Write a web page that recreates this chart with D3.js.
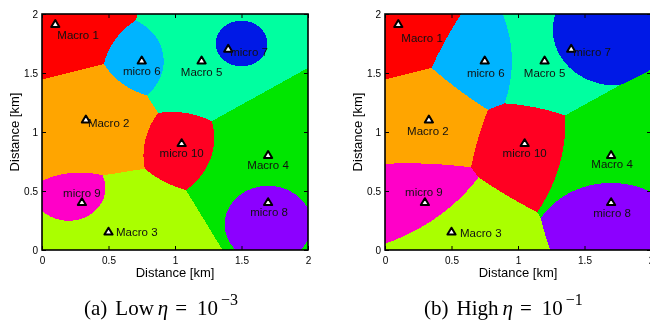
<!DOCTYPE html>
<html>
<head>
<meta charset="utf-8">
<script src="https://cdn.jsdelivr.net/npm/d3@7"></script>
<style>
  html, body { margin: 0; padding: 0; background: #fff; }
  #wrap { position: relative; width: 650px; height: 320px; overflow: hidden; }
  #wrap canvas, #wrap svg { position: absolute; left: 0; top: 0; }
</style>
</head>
<body>
<div id="wrap">
  <canvas id="map" width="650" height="320"></canvas>
  <svg id="chart" width="650" height="320"></svg>
</div>
<script>
// ─── Data ────────────────────────────────────────────────────────────────────
const stationNames = ['Macro 1', 'Macro 2', 'Macro 3', 'Macro 4', 'Macro 5',
                      'micro 6', 'micro 7', 'micro 8', 'micro 9', 'micro 10'];
const stationX = [0.10, 0.33, 0.50, 1.70, 1.20, 0.75, 1.40, 1.70, 0.30, 1.05];   // km
const stationY = [1.91, 1.10, 0.15, 0.80, 1.60, 1.60, 1.70, 0.40, 0.40, 0.90];   // km
const cellColors = ['#ff0000', '#ffa500', '#aaff00', '#00e600', '#00ffa0',
                    '#00b4ff', '#0019e6', '#8c00ff', '#ff00c8', '#ff0022'];
// relative reach of each station (user goes to max reach / distance)
const reachLow  = [1, 1, 1, 1, 1, 0.577, 0.577, 0.56, 0.577, 0.577];
const reachHigh = [1, 1, 1, 1.1, 1.1, 0.91, 0.87, 0.8, 0.9, 0.88];
const axisTicks = [0, 0.5, 1, 1.5, 2];
const captionTags = ['(a)', '(b)'];
const captionWords = ['Low', 'High'];
const etaExponents = ['\u22123', '\u22121'];

// ─── Layout / style ──────────────────────────────────────────────────────────
const C = {
  sans: '"Liberation Sans", Arial, Helvetica, sans-serif',
  serif: '"Liberation Serif", "Times New Roman", serif',
  ink: '#000',
};
const LABEL_LOW = [
  { dx: 2,   dy: 14,  a: 'start' },
  { dx: 2,   dy: 7,   a: 'start' },
  { dx: 7.5, dy: 4,   a: 'start' },
  { dx: 0,   dy: 13,  a: 'middle' },
  { dx: 0,   dy: 15,  a: 'middle' },
  { dx: 0,   dy: 14,  a: 'middle' },
  { dx: 2,   dy: 7,   a: 'start' },
  { dx: 1,   dy: 13,  a: 'middle' },
  { dx: 0,   dy: -6,  a: 'middle' },
  { dx: 0,   dy: 13,  a: 'middle' },
];
const LABEL_HIGH = [
  { dx: 3,   dy: 17,  a: 'start' },
  { dx: -1,  dy: 15,  a: 'middle' },
  { dx: 8.5, dy: 5,   a: 'start' },
  { dx: 1,   dy: 12.5, a: 'middle' },
  { dx: 0,   dy: 16,  a: 'middle' },
  { dx: 1,   dy: 16,  a: 'middle' },
  { dx: 2,   dy: 7,   a: 'start' },
  { dx: 1,   dy: 14,  a: 'middle' },
  { dx: -1,  dy: -7,  a: 'middle' },
  { dx: 0,   dy: 13,  a: 'middle' },
];
const PANELS = [
  { left: 42,  reach: reachLow,  labels: LABEL_LOW,  ytitleX: 19,  capX: 84 },
  { left: 385, reach: reachHigh, labels: LABEL_HIGH, ytitleX: 362, capX: 424 },
];
const PW = 266, TOP = 14, BOTTOM = 250;

const canvas = document.getElementById('map');
const ctx = canvas.getContext('2d');
const img = ctx.createImageData(canvas.width, canvas.height);
const rgb = cellColors.map((c) => d3.rgb(c));
const svg = d3.select('#chart');

function owner(xk, yk, reach) {
  let best = -Infinity, idx = 0;
  for (let i = 0; i < stationX.length; i++) {
    const d = Math.max(Math.hypot(xk - stationX[i], yk - stationY[i]), 1e-6);
    const s = reach[i] / d;
    if (s > best) { best = s; idx = i; }
  }
  return idx;
}

PANELS.forEach((p, pi) => {
  const x = d3.scaleLinear().domain([0, 2]).range([p.left, p.left + PW]);
  const y = d3.scaleLinear().domain([0, 2]).range([BOTTOM, TOP]);

  // association map, one canvas pixel at a time
  const [r0, r1] = x.range();
  for (let py = TOP; py < BOTTOM; py++) {
    const yk = y.invert(py + 0.5);
    for (let px = Math.round(r0); px < Math.min(Math.round(r1), canvas.width); px++) {
      const c = rgb[owner(x.invert(px + 0.5), yk, p.reach)];
      const o = (py * canvas.width + px) * 4;
      img.data[o] = c.r; img.data[o + 1] = c.g; img.data[o + 2] = c.b; img.data[o + 3] = 255;
    }
  }

  const g = svg.append('g').attr('font-family', C.sans);

  // axes (MATLAB style: ticks inward on all four sides)
  const fmt = (v) => String(v);
  g.append('g').attr('transform', `translate(0,${BOTTOM})`)
    .call(d3.axisBottom(x).tickValues(axisTicks).tickSize(-4).tickSizeOuter(0).tickPadding(7).tickFormat(fmt));
  g.append('g').attr('transform', `translate(${p.left},0)`)
    .call(d3.axisLeft(y).tickValues(axisTicks).tickSize(-4).tickSizeOuter(0).tickPadding(4).tickFormat(fmt));
  g.append('g').attr('transform', `translate(0,${TOP})`)
    .call(d3.axisTop(x).tickValues(axisTicks).tickSize(-4).tickSizeOuter(0).tickFormat(''));
  g.append('g').attr('transform', `translate(${p.left + PW},0)`)
    .call(d3.axisRight(y).tickValues(axisTicks).tickSize(-4).tickSizeOuter(0).tickFormat(''));
  g.selectAll('.tick text').attr('font-size', 10).attr('fill', C.ink).attr('font-family', C.sans);
  g.selectAll('.tick line').attr('stroke', C.ink);
  g.selectAll('.domain').remove();

  g.append('rect')
    .attr('x', p.left).attr('y', TOP).attr('width', PW).attr('height', BOTTOM - TOP)
    .attr('fill', 'none').attr('stroke', C.ink).attr('stroke-width', 1.6);

  // axis titles
  g.append('text').attr('x', p.left + PW / 2).attr('y', 277)
    .attr('text-anchor', 'middle').attr('font-size', 13).attr('fill', C.ink)
    .text('Distance [km]');
  g.append('text')
    .attr('transform', `translate(${p.ytitleX},${(TOP + BOTTOM) / 2}) rotate(-90)`)
    .attr('text-anchor', 'middle').attr('font-size', 13).attr('fill', C.ink)
    .text('Distance [km]');

  // stations
  const tri = 'M0,-3.8L4.1,3.1L-4.1,3.1Z';
  stationNames.forEach((name, i) => {
    const sx = x(stationX[i]), sy = y(stationY[i]);
    g.append('path').attr('d', tri)
      .attr('transform', `translate(${sx},${sy - 0.8})`)
      .attr('fill', '#fff').attr('stroke', C.ink).attr('stroke-width', 2)
      .attr('stroke-linejoin', 'round');
    const lp = p.labels[i];
    g.append('text')
      .attr('x', sx + lp.dx).attr('y', sy + lp.dy)
      .attr('text-anchor', lp.a).attr('font-size', 11.5).attr('fill', '#111')
      .text(name);
  });

  // sub-caption
  const cap = svg.append('text')
    .attr('x', p.capX).attr('y', 315)
    .attr('font-family', C.serif).attr('font-size', 21).attr('fill', C.ink);
  cap.append('tspan').text(captionTags[pi]);
  cap.append('tspan').attr('dx', 8).text(captionWords[pi]);
  cap.append('tspan').attr('dx', 4).attr('font-style', 'italic').text('\u03b7');
  cap.append('tspan').attr('dx', 7).text('=');
  cap.append('tspan').attr('dx', 10).text('10');
  cap.append('tspan').attr('dx', 3).attr('dy', -10).attr('font-size', 16).text(etaExponents[pi]);
});

ctx.putImageData(img, 0, 0);
</script>
</body>
</html>
